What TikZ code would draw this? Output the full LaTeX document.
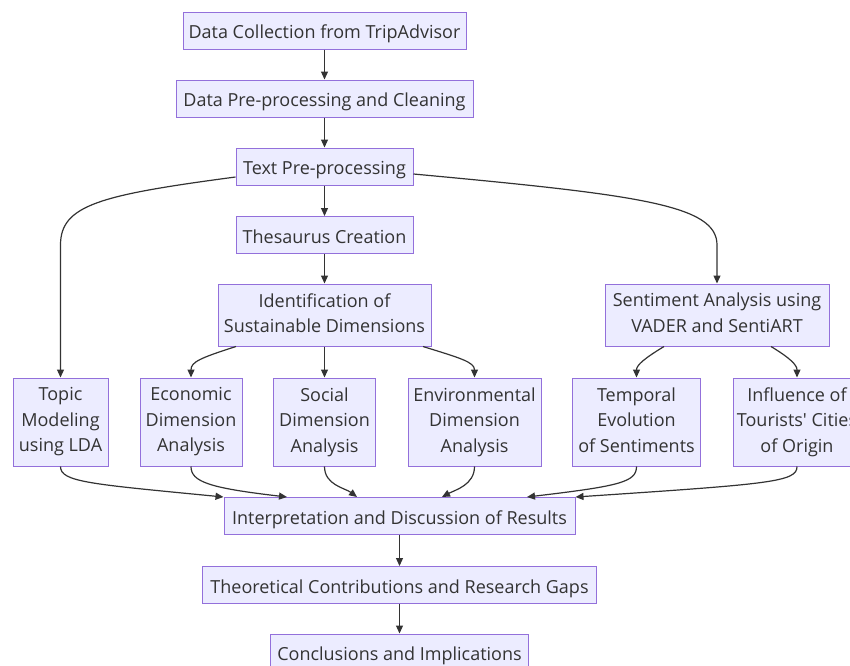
\documentclass[tikz,border=0pt]{standalone}
\usepackage{fontspec}
\setmainfont{Open Sans}
\usetikzlibrary{arrows.meta,calc}
\definecolor{boxfill}{HTML}{ECECFF}
\definecolor{boxdraw}{HTML}{9370DB}
\definecolor{ink}{HTML}{333333}
\newcommand\boxstrut{\rule[-4.25pt]{0pt}{25.5pt}}
\tikzset{
  box/.style={draw=boxdraw, fill=boxfill, line width=1pt, inner sep=0pt, align=center,
    text=ink, font=\fontsize{18}{25.5}\selectfont,
    execute at begin node=\boxstrut, execute at end node=\boxstrut},
  conn/.style={draw=ink, line width=1.2pt, -{Triangle[length=8pt,width=7pt]}},
}
\begin{document}
\begin{tikzpicture}[x=1pt,y=-1pt]
\useasboundingbox (0,0) rectangle (850,665);
\clip (0,0) rectangle (850,665);
\node[box, minimum width=283, minimum height=37] (n1) at (324.5,30.5) {Data Collection from TripAdvisor};
\node[box, minimum width=297, minimum height=37] (n2) at (324.5,98.5) {Data Pre-processing and Cleaning};
\node[box, minimum width=177, minimum height=37] (n3) at (324.5,166.5) {Text Pre-processing};
\node[box, minimum width=177, minimum height=37] (n4) at (324.5,235) {Thesaurus Creation};
\node[box, minimum width=213, minimum height=62] (n5) at (324.5,315) {Identification of\\Sustainable Dimensions};
\node[box, minimum width=224, minimum height=62] (n6) at (717,315) {Sentiment Analysis using\\VADER and SentiART};
\node[box, minimum width=95, minimum height=88] (topic) at (60.5,422) {Topic\\Modeling\\using LDA};
\node[box, minimum width=102, minimum height=88] (econ) at (191,422) {Economic\\Dimension\\Analysis};
\node[box, minimum width=102, minimum height=88] (soc) at (324.5,422) {Social\\Dimension\\Analysis};
\node[box, minimum width=133, minimum height=88] (env) at (474.5,422) {Environmental\\Dimension\\Analysis};
\node[box, minimum width=128, minimum height=88] (temp) at (636.5,422) {Temporal\\Evolution\\of Sentiments};
\node[box, minimum width=128, minimum height=88] (infl) at (797,422) {Influence of\\Tourists\textquotesingle{} Cities\\of Origin};
\node[box, minimum width=351, minimum height=37] (interp) at (399.5,516) {Interpretation and Discussion of Results};
\node[box, minimum width=394, minimum height=37] (theor) at (399.5,585) {Theoretical Contributions and Research Gaps};
\node[box, minimum width=258, minimum height=37] (concl) at (399.5,652.5) {Conclusions and Implications};

\draw[conn] (n1) -- (n2);
\draw[conn] (n2) -- (n3);
\draw[conn] (n3) -- (n4);
\draw[conn] (n4) -- (n5);
\draw[conn] ([yshift=-10.5pt]n3.west) .. controls (100,195) and (60.5,205) .. (60.5,245) -- (topic.north);
\draw[conn] ([yshift=-7.5pt]n3.east) .. controls (640,195) and (717,205) .. (717,245) -- (n6.north);
\draw[conn] ([xshift=-88.5pt]n5.south) .. controls (200,358) and (191,362) .. (econ.north);
\draw[conn] (n5) -- (soc);
\draw[conn] ([xshift=98.5pt]n5.south) .. controls (460,358) and (474.5,362) .. (env.north);
\draw[conn] ([xshift=-53pt]n6.south) .. controls (645,358) and (636.5,365) .. (temp.north);
\draw[conn] ([xshift=54pt]n6.south) .. controls (790,358) and (797,365) .. (infl.north);
\draw[conn] (topic.south) .. controls (60.5,482) and (90,484) .. (interp.north west);
\draw[conn] (econ.south) .. controls (191,482) and (210,488) .. ([xshift=-112.5pt]interp.north);
\draw[conn] (soc.south) .. controls (324.5,485) and (345,488) .. ([xshift=-42.5pt]interp.north);
\draw[conn] (env.south) .. controls (474.5,485) and (455,490) .. ([xshift=42.5pt]interp.north);
\draw[conn] (temp.south) .. controls (636.5,482) and (620,486) .. ([xshift=127.5pt]interp.north);
\draw[conn] (infl.south) .. controls (797,482) and (770,484) .. (interp.north east);
\draw[conn] (interp) -- (theor);
\draw[conn] (theor) -- (concl);
\end{tikzpicture}
\end{document}
